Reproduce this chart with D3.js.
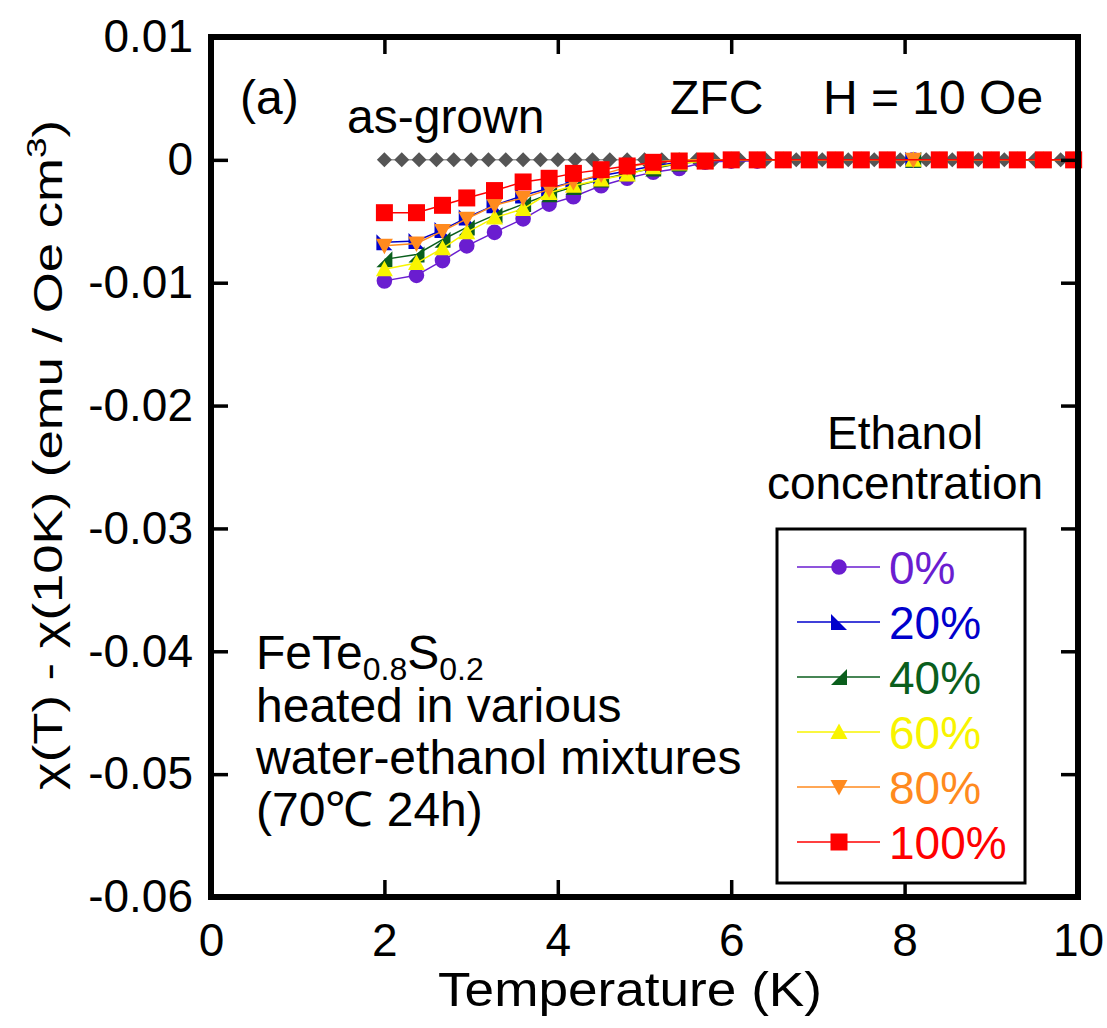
<!DOCTYPE html>
<html>
<head>
<meta charset="utf-8">
<script src="https://cdn.jsdelivr.net/npm/d3@7"></script>
<style>
  body { margin: 0; background: #fff; }
  svg text { font-family: "Liberation Sans", Arial, sans-serif; }
</style>
</head>
<body>
<svg id="chart" width="1107" height="1028"></svg>
<script>
// temperatures (K) shared by the heated samples
var temps = [2.0, 2.37, 2.67, 2.95, 3.27, 3.6, 3.9, 4.18, 4.5, 4.8, 5.1, 5.4, 5.7,
             6.0, 6.3, 6.6, 6.9, 7.2, 7.5, 7.8, 8.1, 8.4, 8.7, 9.0, 9.3, 9.6, 9.95];

var chi0   = [-0.00985, -0.0094, -0.0082, -0.0070, -0.0059, -0.0048, -0.0036, -0.0030, -0.0021, -0.0015, -0.0010, -0.0007, -0.0002,
              -0.0001, -0.0001, 0, 0, 0, 0, 0, 0, 0, 0, 0, 0, 0, 0];
var chi20  = [-0.0067, -0.0066, -0.0057, -0.0047, -0.0037, -0.0029, -0.0023, -0.0018, -0.0013, -0.0009, -0.0005, -0.0002, -0.0001,
              0, 0, 0, 0, 0, 0, 0, 0, 0, 0, 0, 0, 0, 0];
var chi40  = [-0.0081, -0.0077, -0.0065, -0.0055, -0.0045, -0.0036, -0.0028, -0.0022, -0.0016, -0.0011, -0.0007, -0.0003, -0.0001,
              0, 0, 0, 0, 0, 0, 0, 0, 0, 0, 0, 0, 0, 0];
var chi60  = [-0.0089, -0.0084, -0.0072, -0.0059, -0.0047, -0.0040, -0.0027, -0.0021, -0.0016, -0.0012, -0.0006, -0.0003, -0.0001,
              0, 0, 0, 0, 0, 0, 0, 0, 0, 0, 0, 0, 0, 0];
var chi80  = [-0.0070, -0.0068, -0.0058, -0.0048, -0.0037, -0.0031, -0.0024, -0.0018, -0.0012, -0.0006, -0.0002, 0, 0,
              0, 0, 0, 0, 0, 0, 0, 0, 0, 0, 0, 0, 0, 0];
// no 100% point at 8.1 K
var chi100 = [-0.0043, -0.0043, -0.0037, -0.0031, -0.0025, -0.0018, -0.0015, -0.0011, -0.0008, -0.0005, -0.0002, -0.0001, -0.0001,
              0, 0, 0, 0, 0, 0, 0, null, 0, 0, 0, 0, 0, 0];

// as-grown sample (its own temperature grid)
var asGrownT = [2.0, 2.2, 2.4, 2.6, 2.8, 3.0, 3.2, 3.4, 3.6, 3.8, 4.0, 4.2, 4.4, 4.6, 4.8, 5.0, 5.2, 5.4, 5.6,
                5.8, 6.1, 6.4, 6.75, 7.05, 7.35, 7.65, 7.95, 8.25, 8.55, 8.85, 9.15, 9.5, 9.8];
var asGrownChi = [0, 0, 0, 0, 0, 0, 0, 0, 0, 0, 0, 0, 0, 0, 0, 0, 0, 0, 0,
                  0, 0, 0, 0, 0, 0, 0, 0, 0, 0, 0, 0, 0, 0];

var seriesNames = ["0%", "20%", "40%", "60%", "80%", "100%"];
var seriesColors = ["#6a1dd0", "#0000cc", "#0a5e1c", "#f8f400", "#ff8a1e", "#ff0000"];
var seriesValues = [chi0, chi20, chi40, chi60, chi80, chi100];
var seriesShapes = ["circle", "triLL", "triLR", "triUp", "triDown", "square"];

var xTicks = [0, 2, 4, 6, 8, 10];
var yTicks = [0.01, 0, -0.01, -0.02, -0.03, -0.04, -0.05, -0.06];

var svg = d3.select("#chart");
var pLeft = 211, pRight = 1078, pTop = 37, pBottom = 897;

var x = d3.scaleLinear().domain([0, 10]).range([pLeft, pRight]);
var y = d3.scaleLinear().domain([-0.06, 0.01]).range([pBottom, pTop]);

function shapePath(s) {
    if (s === "triLL") return "M-8,-8L-8,8L8,8Z";
    if (s === "triLR") return "M8,-8L8,8L-8,8Z";
    if (s === "triUp") return "M0,-8.5L8.5,7L-8.5,7Z";
    if (s === "triDown") return "M-8.5,-7L8.5,-7L0,8.5Z";
    if (s === "square") return "M-8.5,-8.5H8.5V8.5H-8.5Z";
    if (s === "diamond") return "M0,-7.5L7.5,0L0,7.5L-7.5,0Z";
    return d3.symbol().type(d3.symbolCircle).size(Math.PI * 7.8 * 7.8)();
}

var line = d3.line()
    .x(function (d) { return x(d.t); })
    .y(function (d) { return y(d.v); });

// as-grown
var ag = asGrownT.map(function (t, i) { return {t: t, v: asGrownChi[i]}; });
svg.append("path").datum(ag)
    .attr("d", line).attr("fill", "none").attr("stroke", "#999").attr("stroke-width", 1.5);
svg.selectAll(".ag").data(ag).enter().append("path")
    .attr("class", "ag")
    .attr("transform", function (d) { return "translate(" + x(d.t) + "," + y(d.v) + ")"; })
    .attr("d", shapePath("diamond"))
    .attr("fill", "#555");

// heated series
seriesValues.forEach(function (vals, k) {
    var pts = temps.map(function (t, i) { return {t: t, v: vals[i]}; })
        .filter(function (d) { return d.v !== null && d.v !== undefined; });
    svg.append("path").datum(pts)
        .attr("d", line).attr("fill", "none")
        .attr("stroke", seriesColors[k]).attr("stroke-width", 1.5);
    svg.selectAll(".m" + k).data(pts).enter().append("path")
        .attr("class", "m" + k)
        .attr("transform", function (d) { return "translate(" + x(d.t) + "," + y(d.v) + ")"; })
        .attr("d", shapePath(seriesShapes[k]))
        .attr("fill", seriesColors[k]);
});

// axes with inward ticks
var fs = 46;
var xAxis = svg.append("g").attr("transform", "translate(0," + pBottom + ")")
    .call(d3.axisBottom(x).tickValues(xTicks).tickFormat(d3.format("d"))
        .tickSizeInner(-17).tickSizeOuter(0).tickPadding(26));
var xTop = svg.append("g").attr("transform", "translate(0," + pTop + ")")
    .call(d3.axisTop(x).tickValues(xTicks).tickFormat("").tickSizeInner(-17).tickSizeOuter(0));
var yAxis = svg.append("g").attr("transform", "translate(" + pLeft + ",0)")
    .call(d3.axisLeft(y).tickValues(yTicks)
        .tickFormat(function (d) { return d === 0 ? "0" : d3.format(".2f")(d).replace("\u2212", "-"); })
        .tickSizeInner(-17).tickSizeOuter(0).tickPadding(18));
var yRight = svg.append("g").attr("transform", "translate(" + pRight + ",0)")
    .call(d3.axisRight(y).tickValues(yTicks).tickFormat("").tickSizeInner(-17).tickSizeOuter(0));

[xAxis, xTop, yAxis, yRight].forEach(function (g) {
    g.select(".domain").remove();
    g.selectAll(".tick line").attr("stroke", "#000").attr("stroke-width", 3.5);
    g.selectAll("text").attr("font-size", fs).attr("fill", "#000")
        .style("font-family", "'Liberation Sans', Arial, sans-serif");
});

// frame
svg.append("rect")
    .attr("x", pLeft).attr("y", pTop)
    .attr("width", pRight - pLeft).attr("height", pBottom - pTop)
    .attr("fill", "none").attr("stroke", "#000").attr("stroke-width", 6);

// axis titles
svg.append("text")
    .attr("x", 630).attr("y", 1006)
    .attr("text-anchor", "middle").attr("font-size", 48)
    .attr("textLength", 384).attr("lengthAdjust", "spacingAndGlyphs")
    .text("Temperature (K)");

var yt = svg.append("text")
    .attr("transform", "translate(62,455) rotate(-90)")
    .attr("text-anchor", "middle").attr("font-size", 40)
    .attr("textLength", 670).attr("lengthAdjust", "spacingAndGlyphs");
yt.append("tspan").text("\u03c7(T) - \u03c7(10K) (emu / Oe cm");
yt.append("tspan").attr("dy", -16).attr("font-size", 28).text("3");
yt.append("tspan").attr("dy", 16).text(")");

// annotations
var afs = 48;
function label(tx, ty, str, anchor, size) {
    return svg.append("text").attr("x", tx).attr("y", ty)
        .attr("text-anchor", anchor || "start").attr("font-size", size || afs).text(str);
}
label(240, 114, "(a)");
label(347, 133, "as-grown");
label(670, 114, "ZFC");
label(823, 114, "H = 10 Oe");
label(905, 449, "Ethanol", "middle", 46);
label(905, 499, "concentration", "middle", 46);

var fe = svg.append("text").attr("x", 256).attr("y", 669).attr("font-size", afs);
fe.append("tspan").text("FeTe");
fe.append("tspan").attr("dy", 11).attr("font-size", 32).text("0.8");
fe.append("tspan").attr("dy", -11).text("S");
fe.append("tspan").attr("dy", 11).attr("font-size", 32).text("0.2");
label(256, 722, "heated in various");
label(256, 774, "water-ethanol mixtures");
label(256, 826, "(70\u2103 24h)");

// legend
var lg = svg.append("g");
lg.append("rect")
    .attr("x", 777).attr("y", 529).attr("width", 248).attr("height", 354)
    .attr("fill", "#fff").attr("stroke", "#000").attr("stroke-width", 3);
seriesNames.forEach(function (name, k) {
    var ly = 567 + k * 55;
    lg.append("line").attr("x1", 797).attr("x2", 880).attr("y1", ly).attr("y2", ly)
        .attr("stroke", seriesColors[k]).attr("stroke-width", 1.5);
    lg.append("path").attr("transform", "translate(839," + ly + ")")
        .attr("d", shapePath(seriesShapes[k])).attr("fill", seriesColors[k]);
    lg.append("text").attr("x", 889).attr("y", ly + 17)
        .attr("font-size", 46).attr("fill", seriesColors[k]).text(name);
});
</script>
</body>
</html>
